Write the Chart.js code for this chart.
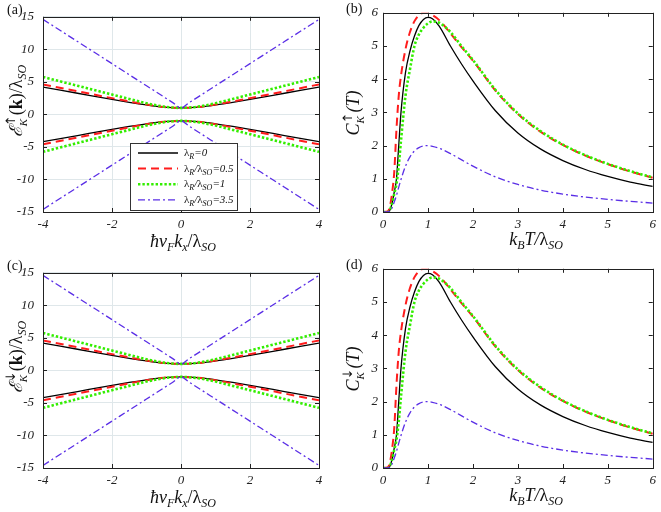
<!DOCTYPE html>
<html><head><meta charset="utf-8">
<script src="https://cdn.jsdelivr.net/npm/chart.js@4.4.0/dist/chart.umd.min.js"></script>
<style>
html,body{margin:0;padding:0;background:#fff;}
#wrap{position:relative;width:661px;height:512px;overflow:hidden;}
.p{position:absolute;}
</style></head><body>
<div id="wrap">
<div class="p" style="left:0;top:0;"><canvas id="ca" width="330" height="256"></canvas></div>
<div class="p" style="left:330px;top:0;"><canvas id="cb" width="331" height="256"></canvas></div>
<div class="p" style="left:0;top:256px;"><canvas id="cc" width="330" height="256"></canvas></div>
<div class="p" style="left:330px;top:256px;"><canvas id="cd" width="331" height="256"></canvas></div>
</div>
<script>
// ---------- data ----------
const seriesLabels = ['λ_R=0', 'λ_R/λ_SO=0.5', 'λ_R/λ_SO=1', 'λ_R/λ_SO=3.5'];

// energy bands (panels a, c)
const kx        = [-4, -3, -2, -1.5, -1, -0.5, -0.25, 0, 0.25, 0.5, 1, 1.5, 2, 3, 4];
const eBlackUp  = [4.2, 3.25, 2.3, 1.85, 1.45, 1.12, 1.03, 1.0, 1.03, 1.12, 1.45, 1.85, 2.3, 3.25, 4.2];
const eBlackDn  = [-4.2, -3.25, -2.3, -1.85, -1.45, -1.12, -1.03, -1.0, -1.03, -1.12, -1.45, -1.85, -2.3, -3.25, -4.2];
const eRedUp    = [4.6, 3.55, 2.5, 2.0, 1.52, 1.14, 1.04, 1.0, 1.04, 1.14, 1.52, 2.0, 2.5, 3.55, 4.6];
const eRedDn    = [-4.6, -3.55, -2.5, -2.0, -1.52, -1.14, -1.04, -1.0, -1.04, -1.14, -1.52, -2.0, -2.5, -3.55, -4.6];
const eGreenUp  = [5.75, 4.4, 3.05, 2.38, 1.72, 1.2, 1.06, 1.0, 1.06, 1.2, 1.72, 2.38, 3.05, 4.4, 5.75];
const eGreenDn  = [-5.75, -4.4, -3.05, -2.38, -1.72, -1.2, -1.06, -1.0, -1.06, -1.2, -1.72, -2.38, -3.05, -4.4, -5.75];
const eBlueUp   = [14.6, 11.2, 7.8, 6.1, 4.4, 2.7, 1.85, 1.0, 1.85, 2.7, 4.4, 6.1, 7.8, 11.2, 14.6];
const eBlueDn   = [-14.6, -11.2, -7.8, -6.1, -4.4, -2.7, -1.85, -1.0, -1.85, -2.7, -4.4, -6.1, -7.8, -11.2, -14.6];
const eXTicks = [-4, -2, 0, 2, 4];
const eYTicks = [-15, -10, -5, 0, 5, 10, 15];

// heat capacity (panels b, d)
const kT     = [0, 0.1, 0.15, 0.2, 0.25, 0.3, 0.35, 0.4, 0.5, 0.6, 0.7, 0.8, 0.9, 1.0, 1.1, 1.25, 1.5, 1.75, 2.0, 2.5, 3.0, 3.5, 4.0, 4.5, 5.0, 5.5, 6.0];
const cBlack = [0, 0.0, 0.05, 0.25, 0.6, 1.0, 2.0, 3.0, 4.2, 4.85, 5.3, 5.62, 5.8, 5.86, 5.82, 5.6, 5.0, 4.45, 3.95, 3.05, 2.38, 1.9, 1.55, 1.28, 1.07, 0.9, 0.77];
const cRed   = [0, 0.02, 0.15, 0.55, 1.2, 2.5, 3.5, 4.1, 4.9, 5.42, 5.75, 5.93, 6.0, 5.99, 5.93, 5.78, 5.38, 4.96, 4.56, 3.66, 2.95, 2.42, 2.02, 1.7, 1.44, 1.22, 1.03];
const cGreen = [0, 0.0, 0.05, 0.25, 0.55, 0.85, 1.4, 2.15, 3.5, 4.3, 5.0, 5.35, 5.55, 5.68, 5.74, 5.7, 5.42, 4.99, 4.58, 3.68, 2.97, 2.44, 2.03, 1.71, 1.45, 1.23, 1.04];
const cBlue  = [0, 0.0, 0.03, 0.12, 0.3, 0.5, 0.75, 0.98, 1.38, 1.66, 1.84, 1.94, 1.99, 2.0, 1.98, 1.92, 1.76, 1.57, 1.38, 1.06, 0.83, 0.66, 0.54, 0.45, 0.38, 0.32, 0.27];
const cXTicks = [0, 1, 2, 3, 4, 5, 6];
const cYTicks = [0, 1, 2, 3, 4, 5, 6];

// ---------- styles ----------
const STY = [
  {c: '#000000', w: 1.3, d: []},
  {c: '#ff1c1c', w: 2.0, d: [8, 5]},
  {c: '#33ee00', w: 2.6, d: [2.4, 2]},
  {c: '#5a2ee6', w: 1.3, d: [7, 3, 2, 3]}
];
const SER = '"Liberation Serif","DejaVu Serif",serif';
const f = (sz, it, b) => (it ? 'italic ' : '') + (b ? 'bold ' : '') + sz + 'px ' + SER;
const ARW = '13px "DejaVu Sans",sans-serif';

function drawRich(ctx, parts, x0, y0, rot, align) {
  ctx.save();
  ctx.translate(x0, y0);
  if (rot) ctx.rotate(rot);
  ctx.textBaseline = 'alphabetic';
  ctx.textAlign = 'left';
  const ws = parts.map(p => { ctx.font = p[1]; return ctx.measureText(p[0]).width; });
  let total = 0, pend = 0;
  parts.forEach((p, i) => { if (p[3]) pend = Math.max(pend, ws[i]); else { total += Math.max(ws[i], pend); pend = 0; } });
  let x = align === 'left' ? 0 : -total / 2;
  pend = 0;
  parts.forEach((p, i) => {
    ctx.font = p[1];
    ctx.fillText(p[0], x, p[2] || 0);
    if (p[3]) pend = Math.max(pend, ws[i]);
    else { x += Math.max(ws[i], pend); pend = 0; }
  });
  ctx.restore();
}

function labelParts(s, sz) {
  const out = [];
  s.split(/(_[A-Z]+)/).forEach(tok => {
    if (!tok) return;
    if (tok[0] === '_') out.push([tok.slice(1), f(Math.round(sz * 0.72), true), 3]);
    else {
      tok.split(/(λ)/).forEach(t => {
        if (!t) return;
        out.push([t, t === 'λ' ? f(sz) : f(sz, true), 0]);
      });
    }
  });
  return out;
}

const framePlugin = {
  id: 'frame',
  afterDatasetsDraw(chart, args, o) {
    const ctx = chart.ctx, a = chart.chartArea;
    const xs = chart.scales.x, ys = chart.scales.y;
    ctx.save();
    ctx.strokeStyle = '#222';
    ctx.lineWidth = 1;
    ctx.setLineDash([]);
    ctx.beginPath();
    const L = 4;
    xs.ticks.forEach(t => {
      const px = Math.round(xs.getPixelForValue(t.value)) + 0.5;
      ctx.moveTo(px, a.bottom); ctx.lineTo(px, a.bottom - L);
      ctx.moveTo(px, a.top); ctx.lineTo(px, a.top + L);
    });
    ys.ticks.forEach(t => {
      const py = Math.round(ys.getPixelForValue(t.value)) + 0.5;
      ctx.moveTo(a.left, py); ctx.lineTo(a.left + L, py);
      ctx.moveTo(a.right, py); ctx.lineTo(a.right - L, py);
    });
    ctx.stroke();
    ctx.strokeRect(Math.round(a.left) + 0.5, Math.round(a.top) + 0.5, Math.round(a.right - a.left), Math.round(a.bottom - a.top));
    // legend
    if (o.legend) {
      const g = o.legend;
      ctx.fillStyle = '#fff';
      ctx.fillRect(g.x, g.y, g.w, g.h);
      ctx.strokeStyle = '#333';
      ctx.strokeRect(g.x + 0.5, g.y + 0.5, g.w, g.h);
      seriesLabels.forEach((lab, i) => {
        const yy = g.y + 10 + i * 15.6;
        const s = STY[i];
        ctx.strokeStyle = s.c; ctx.lineWidth = s.w; ctx.setLineDash(s.d);
        ctx.beginPath(); ctx.moveTo(g.x + 8, yy); ctx.lineTo(g.x + 48, yy); ctx.stroke();
        ctx.setLineDash([]);
        ctx.fillStyle = '#111';
        drawRich(ctx, labelParts(lab, 11), g.x + 54, yy + 3, 0, 'left');
      });
    }
    // titles
    ctx.fillStyle = '#111';
    drawRich(ctx, o.xTitle.parts, o.xTitle.x, o.xTitle.y, 0);
    drawRich(ctx, o.yTitle.parts, o.yTitle.x, o.yTitle.y, -Math.PI / 2);
    ctx.font = f(14);
    ctx.textAlign = 'left'; ctx.textBaseline = 'alphabetic';
    ctx.fillText(o.panel.t, o.panel.x, o.panel.y);
    ctx.restore();
  }
};

function mk(xv, yv) { return xv.map((x, i) => ({x: x, y: yv[i]})); }

function makeChart(id, datasets, opt) {
  return new Chart(document.getElementById(id), {
    type: 'scatter',
    data: {datasets: datasets},
    plugins: [framePlugin],
    options: {
      responsive: false, animation: false, devicePixelRatio: 1,
      layout: {padding: opt.pad},
      plugins: {legend: {display: false}, tooltip: {enabled: false}, frame: opt.frame},
      elements: {point: {radius: 0}},
      scales: {
        x: {
          type: 'linear', min: opt.xr[0], max: opt.xr[1],
          afterBuildTicks: s => { s.ticks = opt.xt.map(v => ({value: v})); },
          afterFit: s => { s.height = 44; },
          grid: {display: opt.grid, drawTicks: false, color: '#dfe7ea', lineWidth: 1},
          border: {display: false},
          ticks: {autoSkip: false, maxRotation: 0, padding: 5, color: '#222', font: {family: SER, size: 13, style: 'italic'}}
        },
        y: {
          type: 'linear', min: opt.yr[0], max: opt.yr[1],
          afterBuildTicks: s => { s.ticks = opt.yt.map(v => ({value: v})); },
          afterFit: s => { s.width = opt.yw; },
          grid: {display: opt.grid, drawTicks: false, color: '#dfe7ea', lineWidth: 1},
          border: {display: false},
          ticks: {autoSkip: false, padding: opt.ypad, color: '#222', font: {family: SER, size: 13, style: 'italic'}}
        }
      }
    }
  });
}

function ds(xv, yv, i) {
  const s = STY[i];
  return {label: seriesLabels[i], data: mk(xv, yv), showLine: true, borderColor: s.c, borderWidth: s.w,
    borderDash: s.d, borderCapStyle: 'butt', cubicInterpolationMode: 'monotone', order: 4 - i, pointRadius: 0, fill: false};
}

function energyDatasets() {
  return [
    ds(kx, eBlackUp, 0), ds(kx, eBlackDn, 0),
    ds(kx, eRedUp, 1), ds(kx, eRedDn, 1),
    ds(kx, eGreenUp, 2), ds(kx, eGreenDn, 2),
    ds(kx, eBlueUp, 3), ds(kx, eBlueDn, 3)
  ];
}
function heatDatasets() {
  return [ds(kT, cBlack, 0), ds(kT, cRed, 1), ds(kT, cGreen, 2), ds(kT, cBlue, 3)];
}

const eXTitle = [['ħ', f(18, true), 0], ['v', f(18, true), 0], ['F', f(12, true), 4], ['k', f(18, true), 0], ['x', f(12, true), 4],
  ['/', f(18), 0], ['λ', f(18), 0], ['SO', f(12, true), 4]];
function eYTitle(arrow) {
  return [['ℰ', f(18, true), 0], [arrow, ARW, -7, true], ['K', f(11, true), 5], ['(', f(18), 0], ['k', f(18, false, true), 0],
    [')', f(18), 0], ['/', f(18), 0], ['λ', f(18), 0], ['SO', f(12, true), 4]];
}
const cXTitle = [['k', f(18, true), 0], ['B', f(12, true), 4], ['T/', f(18, true), 0], ['λ', f(18), 0], ['SO', f(12, true), 4]];
function cYTitle(arrow) {
  return [['C', f(18, true), 0], [arrow, ARW, -7, true], ['K', f(11, true), 5], ['(T)', f(18, true), 0]];
}

const eOpt = (label, arrow, legend) => ({
  pad: {left: 0, right: 11, top: 10, bottom: 0}, xr: [-4, 4], yr: [-15, 15], xt: eXTicks, yt: eYTicks,
  yw: 43, ypad: 9, grid: true,
  frame: {
    xTitle: {parts: eXTitle, x: 183, y: 247},
    yTitle: {parts: eYTitle(arrow), x: 22, y: 101},
    panel: {t: label, x: 7, y: 14},
    legend: legend ? {x: 130, y: 143, w: 107, h: 67} : null
  }
});
const cOpt = (label, arrow) => ({
  pad: {left: 0, right: 5, top: 8, bottom: 0}, xr: [0, 6], yr: [0, 6], xt: cXTicks, yt: cYTicks,
  yw: 53, ypad: 5, grid: false,
  frame: {
    xTitle: {parts: cXTitle, x: 206, y: 245},
    yTitle: {parts: cYTitle(arrow), x: 29, y: 113},
    panel: {t: label, x: 16, y: 13}
  }
});

makeChart('ca', energyDatasets(), eOpt('(a)', '↑', true));
makeChart('cb', heatDatasets(), cOpt('(b)', '↑'));
makeChart('cc', energyDatasets(), eOpt('(c)', '↓', false));
makeChart('cd', heatDatasets(), cOpt('(d)', '↓'));
</script>
</body></html>
